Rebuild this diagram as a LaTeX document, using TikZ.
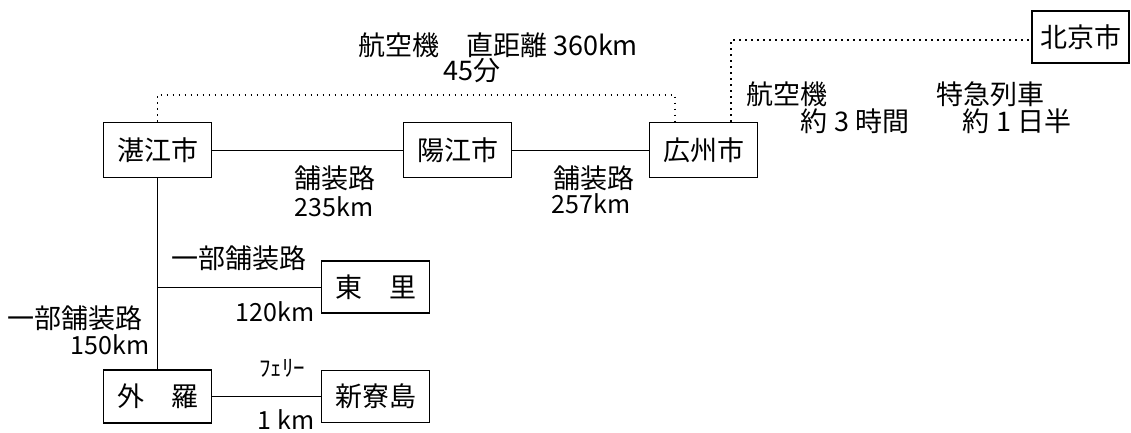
\documentclass[tikz,border=0pt]{standalone}
\usepackage{fontspec}
\newfontfamily\jp{Noto Sans CJK JP}
\begin{document}
\begin{tikzpicture}[x=1pt,y=-1pt,
  city/.style={draw, line width=1.4pt, minimum width=108pt, minimum height=55pt, inner sep=0pt,
    font=\jp\fontsize{27}{30}\selectfont},
  lbl/.style={inner sep=0pt, font=\jp\fontsize{27}{30}\selectfont},
  num/.style={inner sep=0pt, font=\jp\fontsize{25}{28}\selectfont},
  small/.style={inner sep=0pt, font=\jp\fontsize{23}{26}\selectfont},
  road/.style={line width=1pt},
  dotline/.style={line width=1.3pt, dash pattern=on 1.5pt off 4.5pt}]
\useasboundingbox (0,0) rectangle (1131,433);
% cities
\node[city] (zj) at (157.5,150) {湛江市};
\node[city] (yj) at (457.5,150) {陽江市};
\node[city] (gz) at (703.5,150) {広州市};
\node[city, minimum width=97pt, minimum height=52pt] (bj) at (1080.5,37) {北京市};
\node[city, minimum height=52pt] (dl) at (375.5,287) {東　里};
\node[city, minimum height=53pt] (wl) at (157.5,396.5) {外　羅};
\node[city, minimum height=52pt] (xl) at (375.5,396.5) {新寮島};
% solid roads
\draw[road] (zj.east) -- (yj.west);
\draw[road] (yj.east) -- (gz.west);
\draw[road] (zj.south) -- (wl.north);
\coordinate (c1) at (zj.south |- dl.west);
\draw[road] (c1) -- (dl.west);
\draw[road] (wl.east) -- (xl.west);
% dotted air routes
\coordinate (a1) at (157.5,95);
\coordinate (a2) at (675,95);
\draw[dotline] (zj.north) -- (a1) -- (a2) -- (a2 |- gz.north);
\coordinate (b1) at (731,40);
\draw[dotline] (b1 |- gz.north) -- (b1) -- (b1 -| bj.west);
% labels
\node[lbl] (air1) at (498,45) {航空機　直距離 360km};
\node[lbl] (t45) at (472,71) {45分};
\node[lbl] (p1) at (335,178) {舗装路};
\node[num] (d1) at (334,207) {235km};
\node[lbl] (p2) at (594,178) {舗装路};
\node[num] (d2) at (591,204) {257km};
\node[lbl] (air2) at (787,94) {航空機};
\node[lbl] (t3) at (855,121) {約 3 時間};
\node[lbl] (tr) at (990,94) {特急列車};
\node[lbl] (t15) at (1017,121) {約 1 日半};
\node[lbl] (pp1) at (239,258) {一部舗装路};
\node[num] (d120) at (275,312) {120km};
\node[lbl] (pp2) at (75,318) {一部舗装路};
\node[num] (d150) at (110,345) {150km};
\node[small] (fe) at (282,368) {ﾌｪﾘｰ};
\node[num] (d1km) at (286,420) {1 km};
\end{tikzpicture}
\end{document}
